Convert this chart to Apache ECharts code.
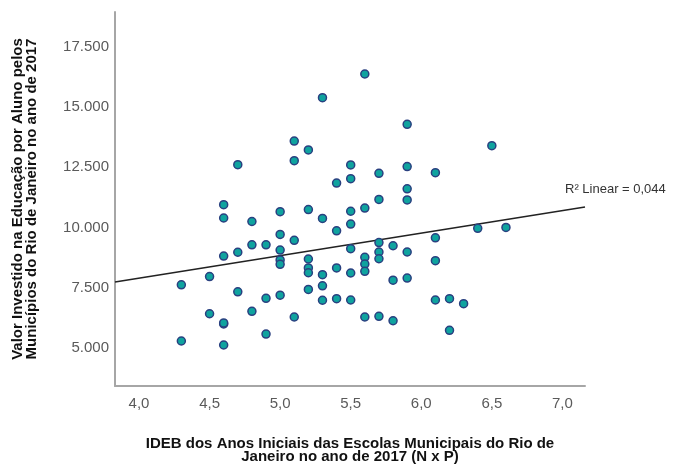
<!DOCTYPE html>
<html>
<head>
<meta charset="utf-8">
<script src="https://cdn.jsdelivr.net/npm/echarts@6/dist/echarts.min.js"></script>
<style>
  html, body { margin: 0; padding: 0; background: #fff; }
  #scatterChart { width: 687px; height: 464px; }
</style>
</head>
<body>
<div id="scatterChart"></div>
<script>
// IDEB (x) x Valor investido por aluno (y)
var idebVals = [
  5.1, 5.2, 5.1, 4.7, 4.6, 4.6, 4.8, 5.0, 5.2, 5.6,
  5.3, 5.9, 6.5, 5.5, 5.5, 5.4, 5.7, 5.9, 6.1, 5.9,
  5.9, 5.7, 5.6, 5.5, 5.3, 5.0, 5.1, 4.8, 4.9, 5.0,
  4.7, 4.6, 5.0, 5.0, 5.2, 5.2, 5.2, 5.2, 4.5, 4.3,
  4.7, 4.9, 5.0, 4.5, 4.8, 4.6, 4.6, 5.1, 4.9, 4.3,
  4.6, 5.4, 5.5, 6.1, 6.4, 6.6, 5.5, 5.7, 5.8, 5.7,
  5.7, 5.9, 5.6, 5.6, 5.6, 5.3, 5.4, 5.5, 5.3, 6.1,
  5.8, 5.9, 5.3, 5.4, 5.5, 6.1, 6.2, 6.3, 5.6, 5.7,
  5.8, 6.2
];
var valorVals = [
  13580, 13210, 12765, 12600, 10940, 10390, 10245, 10650, 10740, 16360,
  15380, 14275, 13390, 12590, 12020, 11840, 12240, 12520, 12270, 11600,
  11140, 11160, 10800, 10670, 10370, 9710, 9465, 9280, 9280, 9060,
  8970, 8810, 8650, 8470, 8690, 8320, 8120, 7430, 7960, 7620,
  7330, 7060, 7190, 6420, 6520, 5995, 6040, 6285, 5580, 5290,
  5125, 9860, 10140, 9570, 9960, 10000, 9120, 9370, 9240, 8980,
  8700, 8980, 8760, 8480, 8180, 8040, 8320, 8110, 7580, 8620,
  7810, 7900, 6980, 7045, 6990, 6990, 7045, 6840, 6285, 6315,
  6130, 5735
];
// linha de ajuste linear
var fitX = [3.83, 7.16];
var fitY = [7740, 10850];
var xTicks = [4.0, 4.5, 5.0, 5.5, 6.0, 6.5, 7.0];
var yTicks = [5000, 7500, 10000, 12500, 15000, 17500];
var r2Label = "R\u00b2 Linear = 0,044";

var pointData = [];
for (var i = 0; i < idebVals.length; i++) {
  pointData.push([idebVals[i], valorVals[i]]);
}
var fitData = [];
for (var j = 0; j < fitX.length; j++) {
  fitData.push([fitX[j], fitY[j]]);
}

var chart = echarts.init(document.getElementById("scatterChart"));
var labelColor = "#5a5a5a";
var lineColor = "#a6a6a6";
var titleFont = "Liberation Sans";
var option = {
  animation: false,
  grid: {
    left: 115,
    right: 102,
    top: 12,
    bottom: 78,
    outerBoundsMode: "none",
    containLabel: false,
  },
  xAxis: {
    type: "value",
    min: 3.83,
    max: 7.16,
    name: "IDEB dos Anos Iniciais das Escolas Municipais do Rio de\nJaneiro no ano de 2017 (N x P)",
    nameLocation: "middle",
    nameGap: 51,
    nameTextStyle: {
      color: "#111",
      fontFamily: titleFont,
      fontWeight: "bold",
      fontSize: 15,
      lineHeight: 13.5,
    },
    axisLine: { show: true, lineStyle: { color: lineColor, width: 2 } },
    axisTick: { show: false },
    splitLine: { show: false },
    axisLabel: {
      customValues: xTicks,
      color: labelColor,
      fontFamily: "Liberation Sans",
      fontSize: 15,
      margin: 10,
      formatter: function (v) {
        return v.toFixed(1).replace(".", ",");
      },
    },
  },
  yAxis: {
    type: "value",
    min: 3425,
    max: 18930,
    name: "Valor Investido na Educação por Aluno pelos\nMunicípios do Rio de Janeiro no ano de 2017",
    nameLocation: "middle",
    nameGap: 76,
    nameTextStyle: {
      color: "#111",
      fontFamily: titleFont,
      fontWeight: "bold",
      fontSize: 15,
      lineHeight: 14,
    },
    axisLine: { show: true, lineStyle: { color: lineColor, width: 2 } },
    axisTick: { show: false },
    splitLine: { show: false },
    axisLabel: {
      customValues: yTicks,
      color: labelColor,
      fontFamily: "Liberation Sans",
      fontSize: 15,
      margin: 6,
      formatter: function (v) {
        return String(v).replace(/\B(?=(\d{3})+(?!\d))/g, ".");
      },
    },
  },
  graphic: [
    {
      type: "text",
      left: 565,
      top: 183,
      style: {
        text: r2Label,
        fill: "#333",
        font: "13px 'Liberation Sans'",
      },
    },
  ],
  series: [
    {
      name: "fit",
      type: "line",
      data: fitData,
      symbol: "none",
      silent: true,
      lineStyle: { color: "#222", width: 1.5 },
      z: 1,
    },
    {
      name: "municipios",
      type: "scatter",
      data: pointData,
      symbol: "circle",
      symbolSize: 8,
      itemStyle: {
        color: "#0fa39f",
        borderColor: "#2a4080",
        borderWidth: 1.5,
        opacity: 1,
      },
      z: 2,
    },
  ],
};
chart.setOption(option);
</script>
</body>
</html>
